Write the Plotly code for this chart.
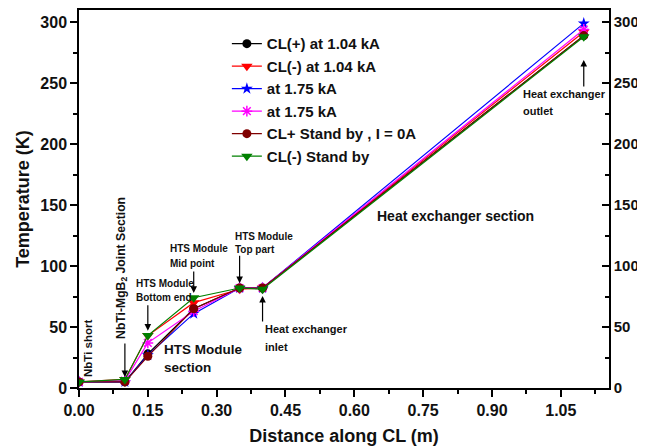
import plotly.graph_objects as go

distance = [0.0, 0.10, 0.15, 0.25, 0.35, 0.40, 1.10]
cl_plus_104 = [5, 5, 28, 65, 82, 82, 289]
cl_minus_104 = [5, 7, 43, 70, 81, 82, 292]
cl_plus_175 = [5, 5, 27, 61, 82, 82, 299]
cl_minus_175 = [5, 6, 37, 63, 82, 82, 294]
cl_plus_standby = [5, 5, 26, 65, 82, 82, 289]
cl_minus_standby = [5, 7, 43, 74, 82, 81, 288]

series = [
    ("CL(+) at 1.04 kA", cl_plus_104, "black", "circle"),
    ("CL(-) at 1.04 kA", cl_minus_104, "red", "triangle-down"),
    ("at 1.75 kA", cl_plus_175, "blue", "star"),
    ("at 1.75 kA", cl_minus_175, "magenta", "asterisk-open"),
    ("CL+ Stand by , I = 0A", cl_plus_standby, "#800000", "circle"),
    ("CL(-) Stand by", cl_minus_standby, "#008000", "triangle-down"),
]

fig = go.Figure()
for name, vals, col, sym in series:
    fig.add_trace(go.Scatter(
        x=distance, y=vals, name="<b>" + name + "</b>", mode="lines+markers",
        line=dict(color=col, width=1.2),
        marker=dict(symbol=sym, size=10 if "triangle" in sym else 9, color=col,
                    line=dict(color=col, width=1.5 if sym == "asterisk-open" else 0)),
    ))

FONT = "Liberation Sans, Arial, sans-serif"
txt = dict(family=FONT, color="#111111")

ann = []
def label(text, x, y, size, xanchor="left", yanchor="middle", angle=0):
    ann.append(dict(text="<b>" + text + "</b>", x=x, y=y, xref="x", yref="y",
                    showarrow=False, xanchor=xanchor, yanchor=yanchor,
                    textangle=angle, font=dict(size=size, **txt)))

def arrow(x, y, ay):
    ann.append(dict(text="", x=x, y=y, xref="x", yref="y", ax=0, ay=ay,
                    showarrow=True, arrowhead=2, arrowsize=1.1, arrowwidth=1.2,
                    arrowcolor="black"))

label("NbTi short", 0.0196, 32.8, 11.5, xanchor="center", angle=-90)
label("NbTi-MgB<sub>2</sub> Joint Section", 0.0935, 98.4, 12.2, xanchor="center", angle=-90)
label("HTS Module", 0.1196, 86.0, 10)
label("Bottom end", 0.1196, 74.5, 10)
label("HTS Module", 0.1935, 114.0, 10)
label("Mid point", 0.1935, 102.5, 10)
label("HTS Module", 0.335, 124.0, 10)
label("Top part", 0.335, 113.5, 10)
label("Heat exchanger", 0.402, 48.0, 11)
label("inlet", 0.402, 33.5, 11)
label("Heat exchanger", 0.963, 241.0, 11)
label("outlet", 0.963, 227.0, 11)
label("HTS Module", 0.180, 31.2, 13.5)
label("section", 0.180, 17.2, 13.5)
label("Heat exchanger section", 0.6457, 141.0, 14)

arrow(0.10, 9, -35)
arrow(0.15, 47, -27)
arrow(0.25, 78, -23)
arrow(0.35, 86, -29)
arrow(0.40, 75.5, 27)
arrow(1.10, 269, 28)

# the page body has an 8px margin, so the figure is drawn 8px right and down
fig.update_layout(
    width=637, height=438,
    margin=dict(l=71, r=36, t=2, b=58, autoexpand=False),
    paper_bgcolor="white", plot_bgcolor="white",
    font=dict(family=FONT, color="#111111"),
    showlegend=True,
    legend=dict(x=0.279, y=0.954, xanchor="left", yanchor="top",
                bgcolor="rgba(0,0,0,0)", font=dict(size=15, family=FONT, color="#111111"),
                tracegroupgap=0, itemwidth=30),
    annotations=ann,
    xaxis=dict(range=[0, 1.155], tick0=0, dtick=0.15, tickformat=".2f",
               ticks="outside", ticklen=7, tickwidth=1.5, tickcolor="black",
               minor=dict(dtick=0.075, ticks="outside", ticklen=4, tickwidth=1.5, tickcolor="black"),
               showline=True, linecolor="black", linewidth=1.5, mirror=True,
               showgrid=False, zeroline=False, automargin=False,
               tickfont=dict(size=16, family=FONT, color="#111111"),
               title=dict(text="<b>Distance along CL (m)</b>", standoff=14,
                          font=dict(size=18, family=FONT, color="#111111"))),
    yaxis=dict(range=[0, 310], tick0=0, dtick=50,
               ticks="outside", ticklen=7, tickwidth=1.5, tickcolor="black",
               minor=dict(dtick=25, ticks="outside", ticklen=4, tickwidth=1.5, tickcolor="black"),
               showline=True, linecolor="black", linewidth=1.5,
               showgrid=False, zeroline=False, automargin=False,
               tickfont=dict(size=16, family=FONT, color="#111111"),
               title=dict(text="<b>Temperature (K)</b>", standoff=6,
                          font=dict(size=18, family=FONT, color="#111111"))),
    yaxis2=dict(range=[0, 310], tick0=0, dtick=50, overlaying="y", side="right",
                anchor="x", ticks="inside", ticklen=7, tickwidth=1.5, tickcolor="black",
                minor=dict(dtick=25, ticks="inside", ticklen=4, tickwidth=1.5, tickcolor="black"),
                showline=True, linecolor="black", linewidth=1.5,
                showgrid=False, zeroline=False, automargin=False,
                tickfont=dict(size=15, family=FONT, color="#111111")),
)
fig.update_xaxes(tickprefix="<b>", ticksuffix="</b>")
fig.update_yaxes(tickprefix="<b>", ticksuffix="</b>")
fig.add_trace(go.Scatter(x=[0], y=[0], yaxis="y2", showlegend=False,
                         mode="markers", marker=dict(opacity=0), hoverinfo="skip"))

fig.write_html("out.html")
